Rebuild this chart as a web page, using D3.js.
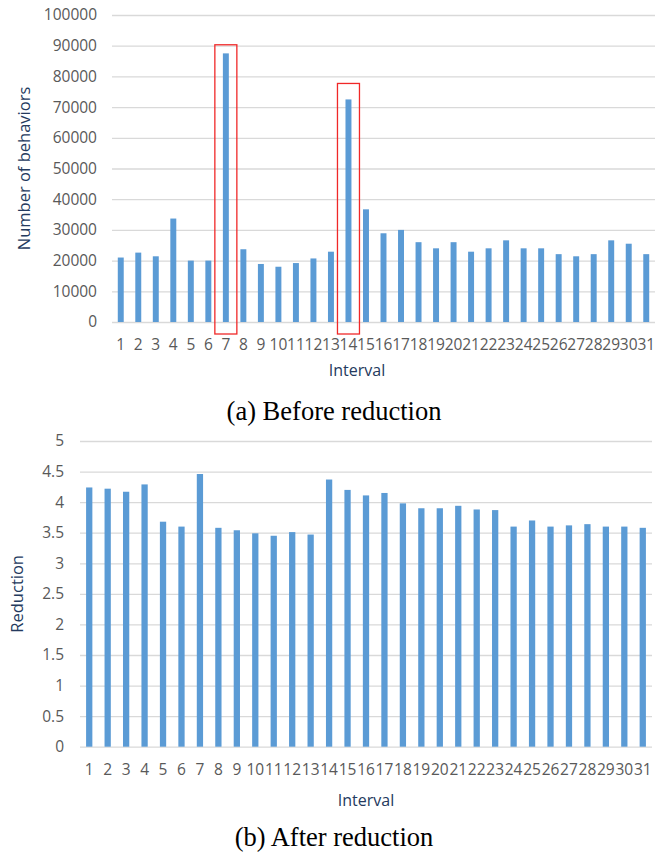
<!DOCTYPE html>
<html>
<head>
<meta charset="utf-8">
<script src="https://cdn.jsdelivr.net/npm/d3@7"></script>
<style>
  body { margin: 0; background: #fff; }
  .tick text { font-family: "Open Sans", sans-serif; fill: #595959; }
</style>
</head>
<body>
<div id="chart"></div>
<script>
// ---- data
var intervals = d3.range(1, 32).map(String);

var behaviors = [21000, 22600, 21400, 33700, 20000, 20000, 87500, 23700, 18900, 18000,
                 19200, 20700, 22900, 72500, 36700, 28900, 30000, 26000, 24000, 26000,
                 22900, 24000, 26600, 24000, 24000, 22100, 21400, 22100, 26600, 25500, 22100];

var reduction = [4.24, 4.22, 4.17, 4.29, 3.68, 3.60, 4.46, 3.58, 3.54, 3.49,
                 3.45, 3.51, 3.47, 4.37, 4.20, 4.11, 4.15, 3.98, 3.90, 3.90,
                 3.94, 3.88, 3.87, 3.60, 3.70, 3.60, 3.62, 3.64, 3.60, 3.60, 3.58];

var behaviorTicks = [0, 10000, 20000, 30000, 40000, 50000, 60000, 70000, 80000, 90000, 100000];
var reductionTicks = [0, 0.5, 1, 1.5, 2, 2.5, 3, 3.5, 4, 4.5, 5];

// red boxes round the two peaks (interval, top of box in data units)
var highlighted = ["7", "14"];
var highlightTop = [90300, 77700];

var barColor = "#5b9bd5";
var gridColor = "#d9d9d9";
var titleColor = "#243a5e";

var svg = d3.select("#chart").append("svg")
    .attr("width", 668)
    .attr("height", 854);

function drawPanel(opts) {
  var x = d3.scaleBand()
      .domain(intervals)
      .range([opts.left, opts.right]);
  var y = d3.scaleLinear()
      .domain([0, opts.max])
      .range([opts.bottom, opts.top]);

  var g = svg.append("g");

  // gridlines + y labels
  var yAxis = g.append("g")
      .attr("transform", "translate(" + opts.left + ",0)")
      .call(d3.axisLeft(y).tickValues(opts.ticks)
            .tickSize(-(opts.right - opts.left))
            .tickPadding(opts.left - opts.labelRight)
            .tickFormat(d => String(d)));
  yAxis.select(".domain").remove();
  yAxis.selectAll("line").attr("stroke", gridColor).attr("stroke-width", 1.3);
  yAxis.selectAll("text").style("font-size", "15.5px");

  var bw = x.bandwidth() * 0.34;
  g.selectAll("rect.bar")
    .data(opts.values)
    .join("rect")
      .attr("class", "bar")
      .attr("x", (d, i) => x(intervals[i]) + x.bandwidth() / 2 - bw / 2)
      .attr("y", d => y(d))
      .attr("width", bw)
      .attr("height", d => y(0) - y(d))
      .attr("fill", barColor);

  // x labels
  var xAxis = g.append("g")
      .attr("transform", "translate(0," + opts.bottom + ")")
      .call(d3.axisBottom(x).tickSize(0).tickPadding(opts.xPad));
  xAxis.select(".domain").remove();
  xAxis.selectAll("text").style("font-size", "15.5px");

  // axis titles
  g.append("text")
      .attr("x", opts.xTitleX)
      .attr("y", opts.xTitleY)
      .attr("text-anchor", "middle")
      .attr("font-family", "Open Sans, sans-serif")
      .attr("font-size", 16)
      .attr("fill", titleColor)
      .text("Interval");

  g.append("text")
      .attr("transform", "translate(" + opts.yTitleX + "," + (opts.top + opts.bottom) / 2 + ") rotate(-90)")
      .attr("text-anchor", "middle")
      .attr("font-family", "Open Sans, sans-serif")
      .attr("font-size", 16.5)
      .attr("fill", titleColor)
      .text(opts.yTitle);

  // caption
  g.append("text")
      .attr("x", 334)
      .attr("y", opts.captionY)
      .attr("text-anchor", "middle")
      .attr("font-family", "Liberation Serif, Times New Roman, serif")
      .attr("font-size", 26.5)
      .attr("fill", "#000")
      .text(opts.caption);

  return {x: x, y: y, g: g};
}

var panelA = drawPanel({
  left: 112, right: 655, top: 15, bottom: 322,
  max: 100000, ticks: behaviorTicks, values: behaviors,
  labelRight: 97, xPad: 17, xTitleX: 357, xTitleY: 376, yTitleX: 30,
  yTitle: "Number of behaviors",
  captionY: 420, caption: "(a) Before reduction"
});

panelA.g.selectAll("rect.mark")
  .data(highlighted)
  .join("rect")
    .attr("class", "mark")
    .attr("x", d => panelA.x(d) + panelA.x.bandwidth() / 2 - 11)
    .attr("y", (d, i) => panelA.y(highlightTop[i]))
    .attr("width", 22)
    .attr("height", (d, i) => panelA.y(0) + 12 - panelA.y(highlightTop[i]))
    .attr("fill", "none")
    .attr("stroke", "#f02828")
    .attr("stroke-width", 1.3);

drawPanel({
  left: 80, right: 652, top: 441, bottom: 746.7,
  max: 5, ticks: reductionTicks, values: reduction,
  labelRight: 64, xPad: 17, xTitleX: 366, xTitleY: 806, yTitleX: 23,
  yTitle: "Reduction",
  captionY: 846, caption: "(b) After reduction"
});
</script>
</body>
</html>
